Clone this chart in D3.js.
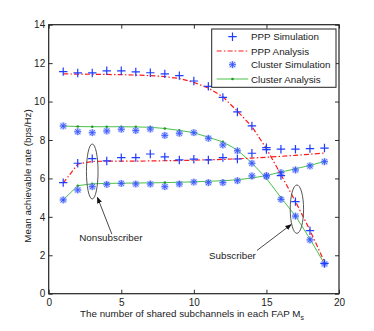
<!DOCTYPE html>
<html>
<head>
<meta charset="utf-8">
<script src="https://cdn.jsdelivr.net/npm/d3@7/dist/d3.min.js"></script>
<style>
  body { margin: 0; background: #fff; }
  text { font-family: "Liberation Sans", Arial, sans-serif; fill: #222; }
</style>
</head>
<body>
<div id="chart"></div>
<script>
// number of shared subchannels
var subchannels = [1, 2, 3, 4, 5, 6, 7, 8, 9, 10, 11, 12, 13, 14, 15, 16, 17, 18, 19];

// subscriber curves
var pppSimSub = [11.56, 11.49, 11.49, 11.6, 11.6, 11.54, 11.5, 11.44, 11.35, 11.07, 10.79, 10.22, 9.46, 8.73, 7.6, 6.15, 4.79, 3.28, 1.58];
var pppAnaSub = [11.44, 11.43, 11.42, 11.41, 11.4, 11.38, 11.35, 11.3, 11.2, 11.0, 10.7, 10.25, 9.5, 8.7, 7.55, 6.2, 4.8, 3.3, 1.65];
var clusterSimSub = [8.73, 8.43, 8.38, 8.47, 8.56, 8.49, 8.57, 8.24, 8.35, 8.38, 8.09, 7.74, 7.44, 6.79, 6.1, 4.91, 4.04, 2.8, 1.55];
var clusterAnaSub = [8.73, 8.7, 8.69, 8.69, 8.69, 8.68, 8.66, 8.6, 8.5, 8.38, 8.14, 7.9, 7.48, 6.8, 6.0, 5.0, 4.05, 2.85, 1.55];

// nonsubscriber curves
var pppSimNon = [5.78, 6.79, 7.03, 6.91, 7.08, 7.08, 7.27, 7.12, 6.96, 7.0, 6.96, 7.08, 7.01, 7.31, 7.5, 7.52, 7.52, 7.55, 7.58];
var pppAnaNon = [5.75, 6.75, 6.88, 6.9, 6.9, 6.9, 6.91, 6.92, 6.93, 6.95, 6.97, 6.99, 7.02, 7.06, 7.1, 7.15, 7.2, 7.26, 7.32];
var clusterSimNon = [4.88, 5.4, 5.57, 5.69, 5.74, 5.71, 5.71, 5.57, 5.71, 5.81, 5.78, 5.78, 5.88, 6.13, 6.15, 6.3, 6.44, 6.65, 6.87];
var clusterAnaNon = [4.88, 5.62, 5.72, 5.74, 5.75, 5.76, 5.77, 5.78, 5.8, 5.82, 5.85, 5.88, 5.93, 6.02, 6.15, 6.33, 6.5, 6.68, 6.88];

var xTicks = [0, 5, 10, 15, 20];
var yTicks = [0, 2, 4, 6, 8, 10, 12, 14];
var legendLabels = ["PPP Simulation", "PPP Analysis", "Cluster Simulation", "Cluster Analysis"];

var width = 374, height = 331;
var margin = {top: 24.7, right: 35, bottom: 37.3, left: 48.7};

var svg = d3.select("#chart").append("svg")
  .attr("width", width)
  .attr("height", height);

var x = d3.scaleLinear().domain([0, 20]).range([margin.left, width - margin.right]);
var y = d3.scaleLinear().domain([0, 14]).range([height - margin.bottom, margin.top]);

var blue = "#1f3dff", red = "#ff1a1a", green = "#49c149", greenDot = "#1f9a1f";

// axes, matlab style box with inward ticks
function styleAxis(g) {
  g.select(".domain").remove();
  g.selectAll("line").attr("stroke", "#333");
  g.selectAll("text").style("font-size", "10px").style("font-family", "Liberation Sans, Arial, sans-serif").attr("fill", "#222");
}
svg.append("g")
  .attr("transform", "translate(0," + y(0) + ")")
  .call(d3.axisBottom(x).tickValues(xTicks).tickSize(-4).tickPadding(5.5))
  .call(styleAxis);
svg.append("g")
  .attr("transform", "translate(0," + y(14) + ")")
  .call(d3.axisTop(x).tickValues(xTicks).tickSize(-4).tickFormat(""))
  .call(styleAxis);
svg.append("g")
  .attr("transform", "translate(" + x(0) + ",0)")
  .call(d3.axisLeft(y).tickValues(yTicks).tickSize(-4).tickPadding(3.5))
  .call(styleAxis);
svg.append("g")
  .attr("transform", "translate(" + x(20) + ",0)")
  .call(d3.axisRight(y).tickValues(yTicks).tickSize(-4).tickFormat(""))
  .call(styleAxis);

svg.append("rect")
  .attr("x", x(0)).attr("y", y(14))
  .attr("width", x(20) - x(0)).attr("height", y(0) - y(14))
  .attr("fill", "none").attr("stroke", "#222").attr("stroke-width", 1.2);

// axis labels
var xl = svg.append("text")
  .attr("x", 192).attr("y", 317)
  .attr("text-anchor", "middle")
  .style("font-size", "9.8px")
  .text("The number of shared subchannels in each FAP M");
xl.append("tspan").attr("dy", 3).style("font-size", "7px").text("s");

svg.append("text")
  .attr("transform", "translate(31,176) rotate(-90)")
  .attr("text-anchor", "middle")
  .style("font-size", "9.8px")
  .text("Mean achievable rate (bps/Hz)");

var line = d3.line()
  .x(function(d, i) { return x(subchannels[i]); })
  .y(function(d) { return y(d); });

var plot = svg.append("g");

function drawAnalysis(vals, kind) {
  if (kind === "ppp") {
    plot.append("path").datum(vals).attr("d", line)
      .attr("fill", "none").attr("stroke", red).attr("stroke-width", 1.2)
      .attr("stroke-dasharray", "5,2.2,1.5,2.2");
  } else {
    plot.append("path").datum(vals).attr("d", line)
      .attr("fill", "none").attr("stroke", green).attr("stroke-width", 1);
    plot.selectAll(null).data(vals).enter().append("circle")
      .attr("cx", function(d, i) { return x(subchannels[i]); })
      .attr("cy", function(d) { return y(d); })
      .attr("r", 1.3).attr("fill", greenDot);
  }
}

function plusMarker(g, cx, cy) {
  var s = 4.2;
  g.append("path")
    .attr("d", "M" + (cx - s) + "," + cy + "H" + (cx + s) + "M" + cx + "," + (cy - s) + "V" + (cy + s))
    .attr("stroke", blue).attr("stroke-width", 1.2).attr("fill", "none");
}

function starMarker(g, cx, cy) {
  var s = 3.4, d = 2.5;
  g.append("circle").attr("cx", cx).attr("cy", cy).attr("r", 3.6)
    .attr("fill", "#8fa3ff").attr("opacity", 0.55);
  g.append("path")
    .attr("d", "M" + (cx - s) + "," + cy + "H" + (cx + s) + "M" + cx + "," + (cy - s) + "V" + (cy + s) +
      "M" + (cx - d) + "," + (cy - d) + "L" + (cx + d) + "," + (cy + d) +
      "M" + (cx - d) + "," + (cy + d) + "L" + (cx + d) + "," + (cy - d))
    .attr("stroke", "#3656ff").attr("stroke-width", 0.9).attr("fill", "none");
}

function drawSim(vals, kind) {
  vals.forEach(function(v, i) {
    if (kind === "ppp") plusMarker(plot, x(subchannels[i]), y(v));
    else starMarker(plot, x(subchannels[i]), y(v));
  });
}

drawAnalysis(clusterAnaSub, "cluster");
drawAnalysis(clusterAnaNon, "cluster");
drawSim(clusterSimSub, "cluster");
drawSim(clusterSimNon, "cluster");
drawAnalysis(pppAnaSub, "ppp");
drawAnalysis(pppAnaNon, "ppp");
drawSim(pppSimSub, "ppp");
drawSim(pppSimNon, "ppp");

// annotations
var defs = svg.append("defs");
defs.append("marker")
  .attr("id", "head").attr("viewBox", "0 0 10 10")
  .attr("refX", 9).attr("refY", 5)
  .attr("markerWidth", 7).attr("markerHeight", 7)
  .attr("orient", "auto")
  .append("path").attr("d", "M0,1L10,5L0,9Z").attr("fill", "#111");

var ann = svg.append("g");
ann.append("ellipse")
  .attr("cx", x(3)).attr("cy", y(6.36))
  .attr("rx", x(0.4) - x(0)).attr("ry", y(0) - y(1.43))
  .attr("fill", "none").attr("stroke", "#555").attr("stroke-width", 1);
ann.append("line")
  .attr("x1", x(4.35)).attr("y1", y(3.1))
  .attr("x2", x(3.36)).attr("y2", y(5.01))
  .attr("stroke", "#333").attr("stroke-width", 0.9)
  .attr("marker-end", "url(#head)");
ann.append("text")
  .attr("x", x(4.28)).attr("y", y(2.75))
  .attr("text-anchor", "middle")
  .style("font-size", "9.8px")
  .text("Nonsubscriber");

ann.append("ellipse")
  .attr("cx", x(17.1)).attr("cy", y(4.4))
  .attr("rx", x(0.46) - x(0)).attr("ry", y(0) - y(1.26))
  .attr("fill", "none").attr("stroke", "#555").attr("stroke-width", 1);
ann.append("line")
  .attr("x1", x(14.35)).attr("y1", y(2.25))
  .attr("x2", x(16.7)).attr("y2", y(3.6))
  .attr("stroke", "#333").attr("stroke-width", 0.9)
  .attr("marker-end", "url(#head)");
ann.append("text")
  .attr("x", x(12.66)).attr("y", y(1.8))
  .attr("text-anchor", "middle")
  .style("font-size", "9.8px")
  .text("Subscriber");

// legend
var lg = svg.append("g");
lg.append("rect")
  .attr("x", 211.7).attr("y", 29)
  .attr("width", 124.3).attr("height", 58.3)
  .attr("fill", "#fff").attr("stroke", "#222").attr("stroke-width", 1);
var rowY = [36.7, 51, 64.7, 79];
legendLabels.forEach(function(lab, i) {
  var cy = rowY[i];
  if (i === 0) plusMarker(lg, 232.5, cy);
  if (i === 1) lg.append("line").attr("x1", 216.7).attr("x2", 248.3).attr("y1", cy).attr("y2", cy)
    .attr("stroke", red).attr("stroke-width", 1.2).attr("stroke-dasharray", "5,2.2,1.5,2.2");
  if (i === 2) starMarker(lg, 232.5, cy);
  if (i === 3) {
    lg.append("line").attr("x1", 216.7).attr("x2", 248.3).attr("y1", cy).attr("y2", cy)
      .attr("stroke", green).attr("stroke-width", 1);
    lg.append("circle").attr("cx", 232.5).attr("cy", cy).attr("r", 1.3).attr("fill", greenDot);
  }
  lg.append("text")
    .attr("x", 251).attr("y", cy + 3.6)
    .style("font-size", "9.8px")
    .text(lab);
});
</script>
</body>
</html>
